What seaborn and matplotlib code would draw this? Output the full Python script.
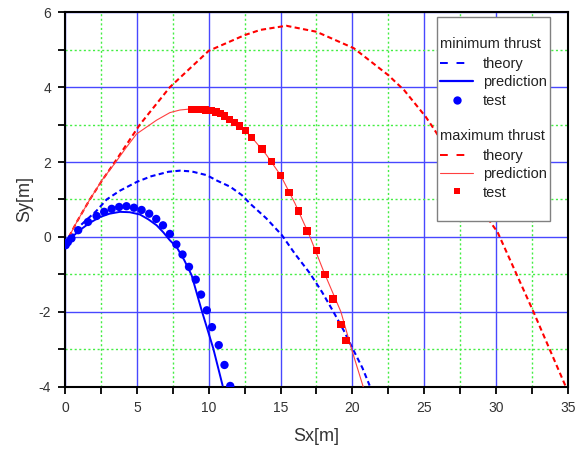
import matplotlib
matplotlib.use("Agg")
import matplotlib.pyplot as plt
import seaborn as sns
import pandas as pd
from matplotlib.lines import Line2D
from matplotlib.legend_handler import HandlerBase
from matplotlib.text import Text
from matplotlib.ticker import MultipleLocator

# ---- minimum thrust ----
min_theory_x = [0, 1.0, 2.2, 2.9, 3.8, 5.0, 6.0, 7.2, 8.0, 8.8, 9.86, 10.6, 11.5, 12.3,
                12.88, 14.0, 15.09, 16.0, 17.06, 17.9, 18.68, 19.4, 20.08, 20.7, 21.2]
min_theory_y = [-0.2, 0.28, 0.7, 1.0, 1.23, 1.47, 1.62, 1.74, 1.77, 1.75, 1.65, 1.5, 1.34, 1.12,
                0.89, 0.5, 0.05, -0.45, -0.98, -1.48, -2.0, -2.5, -3.03, -3.5, -3.97]

min_pred_x = [0, 0.5, 1.03, 1.7, 2.43, 3.1, 3.82, 4.5, 5.21, 5.8, 6.38, 6.85, 7.3,
              7.77, 8.3, 8.81, 9.51, 10.32, 10.97]
min_pred_y = [-0.2, 0.0, 0.18, 0.37, 0.53, 0.62, 0.67, 0.66, 0.6, 0.47, 0.31, 0.12, -0.09,
              -0.27, -0.62, -1.02, -1.96, -2.98, -3.97]

min_test_x = [0.05, 0.2, 0.45, 0.92, 1.6, 2.2, 2.73, 3.25, 3.77, 4.28, 4.8, 5.33, 5.86,
              6.35, 6.82, 7.3, 7.75, 8.18, 8.63, 9.1, 9.47, 9.87, 10.23, 10.7, 11.1, 11.5]
min_test_y = [-0.22, -0.14, -0.04, 0.18, 0.4, 0.56, 0.67, 0.75, 0.8, 0.82, 0.78, 0.72, 0.62,
              0.48, 0.31, 0.08, -0.2, -0.47, -0.8, -1.14, -1.54, -1.96, -2.41, -2.89, -3.42, -3.98]

# ---- maximum thrust ----
max_theory_x = [0, 0.85, 1.73, 2.6, 3.47, 5.21, 7.3, 10.0, 12.5, 13.6, 15.4, 17.5, 20.1,
                22.5, 23.6, 25.1, 25.8, 29.65, 30.1, 32.6, 34.85]
max_theory_y = [-0.2, 0.42, 1.0, 1.52, 2.0, 3.0, 4.0, 4.97, 5.39, 5.53, 5.64, 5.48, 5.04,
                4.32, 3.92, 3.21, 2.81, 0.37, 0.13, -2.0, -4.0]

max_pred_x = [0, 0.85, 1.73, 2.6, 3.5, 4.25, 4.98, 6.38, 7.3, 8.0, 8.8, 10.0, 11.0, 12.0,
              13.0, 14.0, 15.0, 16.0, 17.0, 18.0, 19.2, 19.97, 20.75]
max_pred_y = [-0.2, 0.42, 1.0, 1.53, 1.98, 2.38, 2.75, 3.12, 3.32, 3.39, 3.42, 3.37, 3.27, 3.02,
              2.66, 2.2, 1.65, 0.9, 0.05, -0.92, -2.0, -3.03, -4.0]

max_test_x = [8.8, 9.0, 9.2, 9.4, 9.6, 9.8, 10.0, 10.2, 10.5, 10.8, 11.1, 11.45, 11.8, 12.15,
              12.55, 13.0, 13.7, 14.35, 15.0, 15.6, 16.25, 16.85, 17.5, 18.1, 18.65, 19.2, 19.55]
max_test_y = [3.40, 3.40, 3.40, 3.40, 3.40, 3.39, 3.38, 3.37, 3.34, 3.30, 3.23, 3.14, 3.05, 2.96,
              2.85, 2.65, 2.35, 2.02, 1.64, 1.19, 0.69, 0.16, -0.37, -1.0, -1.66, -2.34, -2.76]

x_ticks = [0, 5, 10, 15, 20, 25, 30, 35]
y_ticks = [-4, -2, 0, 2, 4, 6]

BLUE = "#0000ff"
RED = "#ff0000"
RED_THIN = "#ff4040"

sns.set_theme(style="white")
plt.rcParams["font.family"] = ["Liberation Sans", "DejaVu Sans"]
plt.rcParams["axes.unicode_minus"] = False

fig = plt.figure(figsize=(5.88, 4.5), dpi=100)
ax = fig.add_axes([0.1105, 0.1407, 0.8554, 0.832])

dash = (2.5, 1.6)
sns.lineplot(x=min_theory_x, y=min_theory_y, ax=ax, color=BLUE, lw=1.5, sort=False,
             estimator=None, zorder=3).lines[-1].set_dashes(dash)
sns.lineplot(x=max_theory_x, y=max_theory_y, ax=ax, color=RED, lw=1.5, sort=False,
             estimator=None, zorder=3).lines[-1].set_dashes(dash)
sns.lineplot(x=min_pred_x, y=min_pred_y, ax=ax, color=BLUE, lw=1.4, sort=False,
             estimator=None, zorder=3)
sns.lineplot(x=max_pred_x, y=max_pred_y, ax=ax, color=RED_THIN, lw=0.8, sort=False,
             estimator=None, zorder=3)
sns.scatterplot(x=min_test_x, y=min_test_y, ax=ax, color=BLUE, marker="o", s=36,
                edgecolor="none", zorder=4)
sns.scatterplot(x=max_test_x, y=max_test_y, ax=ax, color=RED, marker="s", s=28,
                edgecolor="none", zorder=4)

ax.set_xlim(0, 35)
ax.set_ylim(-4, 6)
ax.set_xticks(x_ticks)
ax.set_yticks(y_ticks)
ax.xaxis.set_minor_locator(MultipleLocator(2.5))
ax.yaxis.set_minor_locator(MultipleLocator(1))

ax.set_axisbelow(True)
ax.grid(which="major", color="#4848ff", lw=1.0, ls="-")
ax.grid(which="minor", color="#44ee44", lw=1.0, ls=(0, (1.5, 1.8)))

for sp in ax.spines.values():
    sp.set_color("black")
    sp.set_linewidth(1.5)

ax.tick_params(which="both", direction="out", length=5, width=1.3, color="black",
               bottom=True, left=True, top=False, right=False)
ax.tick_params(which="major", labelsize=10, labelcolor="#333333", pad=5)

ax.set_xlabel("Sx[m]", fontsize=13, color="#333333", labelpad=10)
ax.set_ylabel("Sy[m]", fontsize=13, color="#333333", labelpad=4)


class GroupTitle:
    def __init__(self, text):
        self.text = text


class GroupTitleHandler(HandlerBase):
    def create_artists(self, legend, orig_handle, xdescent, ydescent, width, height,
                       fontsize, trans):
        t = Text(-xdescent, height / 2 - ydescent, orig_handle.text, fontsize=fontsize,
                 ha="left", va="center", color="#222222", transform=trans)
        return [t]


blank = Line2D([], [], linestyle="none")
h_min_theory = Line2D([], [], color=BLUE, lw=1.4, dashes=(4, 4.5))
h_min_pred = Line2D([], [], color=BLUE, lw=1.6)
h_min_test = Line2D([], [], color=BLUE, marker="o", ms=6, linestyle="none", markeredgewidth=0)
h_max_theory = Line2D([], [], color=RED, lw=1.4, dashes=(4, 4.5))
h_max_pred = Line2D([], [], color=RED_THIN, lw=0.8)
h_max_test = Line2D([], [], color=RED, marker="s", ms=5, linestyle="none", markeredgewidth=0)

handles = [blank, GroupTitle("minimum thrust"), h_min_theory, h_min_pred, h_min_test,
           blank, GroupTitle("maximum thrust"), h_max_theory, h_max_pred, h_max_test, blank]
labels = ["", "", "theory", "prediction", "test",
          "", "", "theory", "prediction", "test", ""]

leg = ax.legend(handles, labels, handler_map={GroupTitle: GroupTitleHandler()},
                loc="upper right", bbox_to_anchor=(0.964, 0.9875), borderaxespad=0,
                fontsize=10.5, frameon=True, fancybox=False, framealpha=1,
                edgecolor="#808080", facecolor="white", handlelength=2.2,
                handletextpad=0.7, labelspacing=0.3, borderpad=0.22, numpoints=1)
leg.get_frame().set_linewidth(1.0)
for t in leg.get_texts():
    t.set_color("#222222")
leg.set_zorder(10)

fig.savefig("out.png", dpi=100)
